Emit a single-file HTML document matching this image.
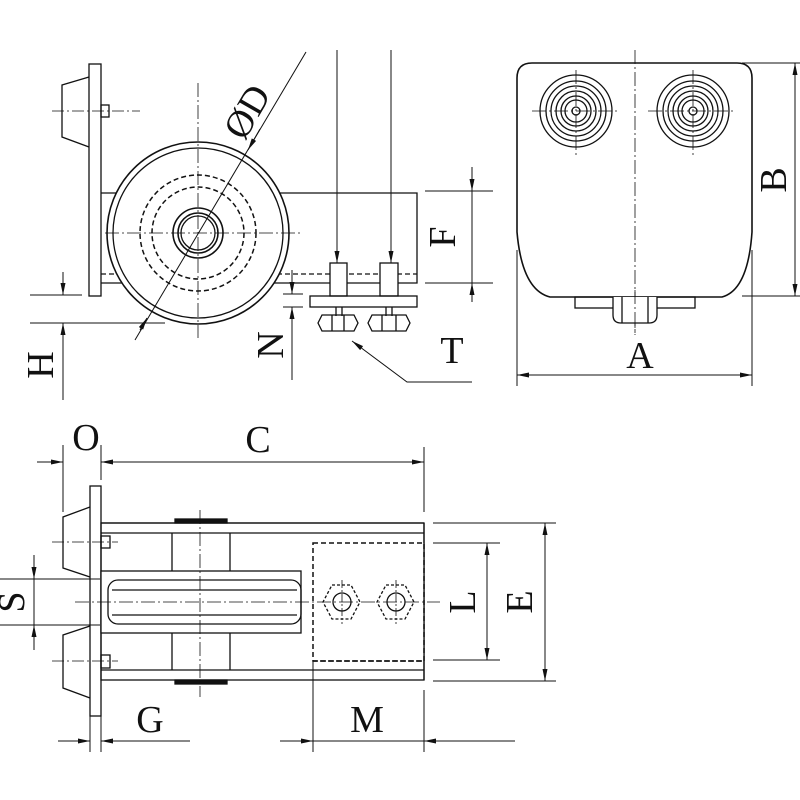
<!DOCTYPE html>
<html><head><meta charset="utf-8"><style>html,body{margin:0;padding:0;background:#fff}svg{display:block}text{font-family:"Liberation Serif",serif;font-size:38px;fill:#111}</style></head>
<body>
<svg width="800" height="800" viewBox="0 0 800 800" xmlns="http://www.w3.org/2000/svg">
<defs>
<marker id="a" viewBox="0 0 12 6" refX="12" refY="3" markerWidth="12" markerHeight="6" orient="auto" markerUnits="userSpaceOnUse"><path d="M0,0.5 L12,3 L0,5.5 Z" fill="#111"/></marker>
</defs>
<g stroke="#111" stroke-width="1.3" fill="none">
<!-- ===== TOP-LEFT VIEW ===== -->
<rect x="89" y="64" width="12" height="232" fill="#fff"/>
<path d="M89,77 L62,85 L62,137 L89,147"/>
<rect x="101" y="105" width="8" height="12"/>
<line x1="52" y1="111" x2="140" y2="111" stroke-dasharray="12,3,2,3" stroke-width="0.8"/>
<path d="M101,193 L417,193 L417,283 L101,283"/>
<line x1="101" y1="274" x2="417" y2="274" stroke-dasharray="5,3"/>
<circle cx="198" cy="233" r="91" stroke-width="1.6" fill="#fff"/>
<circle cx="198" cy="233" r="85"/>
<circle cx="198" cy="233" r="58" stroke-dasharray="5,3" stroke-width="1.5"/>
<circle cx="198" cy="233" r="46" stroke-dasharray="5,3" stroke-width="1.5"/>
<circle cx="198" cy="233" r="25" stroke-width="1.6"/>
<circle cx="198" cy="233" r="20" stroke-width="1.6"/>
<circle cx="198" cy="233" r="17"/>
<line x1="198" y1="83" x2="198" y2="338" stroke-dasharray="14,3,2,3" stroke-width="0.8"/>
<line x1="105" y1="233" x2="303" y2="233" stroke-dasharray="14,3,2,3" stroke-width="0.8"/>
<line x1="306" y1="52" x2="135" y2="340" stroke-width="1"/>
<path d="M247,151 L253,146" stroke="none"/>
<line x1="260" y1="129" x2="248" y2="150" marker-end="url(#a)" stroke-width="1"/>
<line x1="140" y1="330" x2="147" y2="318" marker-end="url(#a)" stroke-width="1"/>
<!-- bolts -->
<rect x="330" y="263" width="17" height="33" fill="#fff"/>
<rect x="380" y="263" width="18" height="33" fill="#fff"/>
<rect x="310" y="296" width="107" height="11"/>
<line x1="336" y1="307" x2="336" y2="316"/><line x1="342" y1="307" x2="342" y2="316"/>
<line x1="386" y1="307" x2="386" y2="316"/><line x1="392" y1="307" x2="392" y2="316"/>
<path d="M322,315 L354,315 L358,323 L354,331 L322,331 L318,323 Z"/>
<line x1="332" y1="315" x2="332" y2="331"/><line x1="344" y1="315" x2="344" y2="331"/>
<path d="M372,315 L406,315 L410,323 L406,331 L372,331 L368,323 Z"/>
<line x1="382" y1="315" x2="382" y2="331"/><line x1="396" y1="315" x2="396" y2="331"/>
<line x1="337" y1="50" x2="337" y2="263" stroke-width="1" marker-end="url(#a)"/>
<line x1="391" y1="50" x2="391" y2="263" stroke-width="1" marker-end="url(#a)"/>
<!-- F -->
<line x1="425" y1="191" x2="493" y2="191" stroke-width="1"/>
<line x1="425" y1="283" x2="493" y2="283" stroke-width="1"/>
<line x1="472" y1="167" x2="472" y2="191" stroke-width="1" marker-end="url(#a)"/>
<line x1="472" y1="302" x2="472" y2="283" stroke-width="1" marker-end="url(#a)"/>
<line x1="472" y1="191" x2="472" y2="283" stroke-width="1"/>
<!-- H -->
<line x1="30" y1="295" x2="82" y2="295" stroke-width="1"/>
<line x1="30" y1="323" x2="165" y2="323" stroke-width="1"/>
<line x1="63" y1="272" x2="63" y2="295" stroke-width="1" marker-end="url(#a)"/>
<line x1="63" y1="400" x2="63" y2="323" stroke-width="1" marker-end="url(#a)"/>
<!-- N -->
<line x1="283" y1="294" x2="303" y2="294" stroke-width="1"/>
<line x1="283" y1="307" x2="303" y2="307" stroke-width="1"/>
<line x1="292" y1="270" x2="292" y2="294" stroke-width="1" marker-end="url(#a)"/>
<line x1="292" y1="380" x2="292" y2="307" stroke-width="1" marker-end="url(#a)"/>
<!-- T leader -->
<polyline points="472,382 407,382 352,341" stroke-width="1" marker-end="url(#a)"/>

<!-- ===== RIGHT VIEW ===== -->
<path d="M532,63 L737,63 Q752,63 752,78 L752,232 Q748,290 722,297 L550,297 Q522,290 517,232 L517,78 Q517,63 532,63 Z" stroke-width="1.6"/>
<line x1="635" y1="50" x2="635" y2="335" stroke-dasharray="14,3,2,3" stroke-width="0.8"/>
<g>
<circle cx="576" cy="111" r="36"/><circle cx="576" cy="111" r="30"/><circle cx="576" cy="111" r="25"/><circle cx="576" cy="111" r="20"/><circle cx="576" cy="111" r="15"/><circle cx="576" cy="111" r="11"/><circle cx="576" cy="111" r="4"/>
<circle cx="693" cy="111" r="36"/><circle cx="693" cy="111" r="30"/><circle cx="693" cy="111" r="25"/><circle cx="693" cy="111" r="20"/><circle cx="693" cy="111" r="15"/><circle cx="693" cy="111" r="11"/><circle cx="693" cy="111" r="4"/>
</g>
<line x1="532" y1="111" x2="618" y2="111" stroke-dasharray="14,3,2,3" stroke-width="0.8"/>
<line x1="648" y1="111" x2="736" y2="111" stroke-dasharray="14,3,2,3" stroke-width="0.8"/>
<line x1="576" y1="70" x2="576" y2="155" stroke-dasharray="14,3,2,3" stroke-width="0.8"/>
<line x1="693" y1="70" x2="693" y2="155" stroke-dasharray="14,3,2,3" stroke-width="0.8"/>
<rect x="575" y="297" width="120" height="11"/>
<path d="M613,297 L613,315 Q613,323 621,323 L649,323 Q657,323 657,315 L657,297" fill="#fff"/>
<line x1="622" y1="297" x2="622" y2="323"/><line x1="648" y1="297" x2="648" y2="323"/>
<line x1="635" y1="290" x2="635" y2="335" stroke-dasharray="14,3,2,3" stroke-width="0.8"/>
<!-- B -->
<line x1="742" y1="63" x2="800" y2="63" stroke-width="1"/>
<line x1="742" y1="296" x2="800" y2="296" stroke-width="1"/>
<line x1="795" y1="180" x2="795" y2="63" stroke-width="1" marker-end="url(#a)"/>
<line x1="795" y1="180" x2="795" y2="296" stroke-width="1" marker-end="url(#a)"/>
<!-- A -->
<line x1="517" y1="250" x2="517" y2="386" stroke-width="1"/>
<line x1="752" y1="250" x2="752" y2="386" stroke-width="1"/>
<line x1="635" y1="375" x2="517" y2="375" stroke-width="1" marker-end="url(#a)"/>
<line x1="635" y1="375" x2="752" y2="375" stroke-width="1" marker-end="url(#a)"/>

<!-- ===== BOTTOM VIEW ===== -->
<rect x="90" y="486" width="11" height="230"/>
<path d="M90,507 L63,517 L63,568 L90,577"/>
<path d="M90,626 L63,635 L63,688 L90,698"/>
<rect x="101" y="536" width="9" height="12"/>
<rect x="101" y="655" width="9" height="13"/>
<line x1="52" y1="542" x2="118" y2="542" stroke-dasharray="12,3,2,3" stroke-width="0.8"/>
<line x1="52" y1="661" x2="118" y2="661" stroke-dasharray="12,3,2,3" stroke-width="0.8"/>
<rect x="101" y="523" width="323" height="157"/>
<line x1="101" y1="533" x2="424" y2="533"/>
<line x1="101" y1="670" x2="424" y2="670"/>
<rect x="175" y="519" width="52" height="4" fill="#111"/>
<rect x="175" y="680" width="52" height="4" fill="#111"/>
<line x1="172" y1="533" x2="172" y2="571"/><line x1="230" y1="533" x2="230" y2="571"/>
<line x1="172" y1="633" x2="172" y2="670"/><line x1="230" y1="633" x2="230" y2="670"/>
<rect x="101" y="571" width="200" height="62" fill="#fff"/>
<rect x="108" y="580" width="193" height="44" rx="10"/>
<line x1="112" y1="590" x2="297" y2="590"/>
<line x1="112" y1="615" x2="297" y2="615"/>
<rect x="313" y="543" width="111" height="118" stroke-dasharray="5,3" stroke-width="1.5" fill="#fff"/>
<line x1="101" y1="523" x2="424" y2="523"/>
<line x1="424" y1="523" x2="424" y2="680"/>
<line x1="313" y1="661" x2="424" y2="661" stroke-dasharray="5,3" stroke-width="1.5"/>
<path d="M332,585 L351,585 L360,602 L351,619 L332,619 L323,602 Z" stroke-dasharray="3,2"/>
<circle cx="342" cy="602" r="9"/>
<path d="M386,585 L405,585 L414,602 L405,619 L386,619 L377,602 Z" stroke-dasharray="3,2"/>
<circle cx="396" cy="602" r="9"/>
<line x1="75" y1="602" x2="440" y2="602" stroke-dasharray="14,3,2,3" stroke-width="0.8"/>
<line x1="200" y1="510" x2="200" y2="697" stroke-dasharray="14,3,2,3" stroke-width="0.8"/>
<line x1="342" y1="580" x2="342" y2="624" stroke-dasharray="8,2,2,2" stroke-width="0.8"/>
<line x1="396" y1="580" x2="396" y2="624" stroke-dasharray="8,2,2,2" stroke-width="0.8"/>
<!-- O/C -->
<line x1="63" y1="445" x2="63" y2="512" stroke-width="1"/>
<line x1="101" y1="445" x2="101" y2="480" stroke-width="1"/>
<line x1="424" y1="447" x2="424" y2="512" stroke-width="1"/>
<line x1="37" y1="462" x2="63" y2="462" stroke-width="1" marker-end="url(#a)"/>
<line x1="260" y1="462" x2="101" y2="462" stroke-width="1" marker-end="url(#a)"/>
<line x1="260" y1="462" x2="424" y2="462" stroke-width="1" marker-end="url(#a)"/>
<!-- L -->
<line x1="433" y1="543" x2="500" y2="543" stroke-width="1"/>
<line x1="433" y1="660" x2="500" y2="660" stroke-width="1"/>
<line x1="487" y1="602" x2="487" y2="543" stroke-width="1" marker-end="url(#a)"/>
<line x1="487" y1="602" x2="487" y2="660" stroke-width="1" marker-end="url(#a)"/>
<!-- E -->
<line x1="433" y1="523" x2="556" y2="523" stroke-width="1"/>
<line x1="433" y1="681" x2="556" y2="681" stroke-width="1"/>
<line x1="545" y1="602" x2="545" y2="523" stroke-width="1" marker-end="url(#a)"/>
<line x1="545" y1="602" x2="545" y2="681" stroke-width="1" marker-end="url(#a)"/>
<!-- S -->
<line x1="0" y1="579" x2="100" y2="579" stroke-width="1"/>
<line x1="0" y1="625" x2="100" y2="625" stroke-width="1"/>
<line x1="34" y1="555" x2="34" y2="579" stroke-width="1" marker-end="url(#a)"/>
<line x1="34" y1="650" x2="34" y2="625" stroke-width="1" marker-end="url(#a)"/>
<line x1="34" y1="579" x2="34" y2="625" stroke-width="1"/>
<!-- G -->
<line x1="90" y1="716" x2="90" y2="752" stroke-width="1"/>
<line x1="101" y1="716" x2="101" y2="752" stroke-width="1"/>
<line x1="58" y1="741" x2="90" y2="741" stroke-width="1" marker-end="url(#a)"/>
<line x1="190" y1="741" x2="101" y2="741" stroke-width="1" marker-end="url(#a)"/>
<!-- M -->
<line x1="313" y1="661" x2="313" y2="752" stroke-width="1"/>
<line x1="424" y1="690" x2="424" y2="752" stroke-width="1"/>
<line x1="280" y1="741" x2="313" y2="741" stroke-width="1" marker-end="url(#a)"/>
<line x1="515" y1="741" x2="424" y2="741" stroke-width="1" marker-end="url(#a)"/>
<line x1="313" y1="741" x2="424" y2="741" stroke-width="1"/>
</g>
<!-- Labels -->
<text x="0" y="0" transform="translate(258,118) rotate(-60)" text-anchor="middle">ØD</text>
<text transform="translate(455,237) rotate(-90)" text-anchor="middle">F</text>
<text transform="translate(53,365) rotate(-90)" text-anchor="middle">H</text>
<text transform="translate(283,345) rotate(-90)" text-anchor="middle">N</text>
<text x="452" y="363" text-anchor="middle">T</text>
<text transform="translate(786,180) rotate(-90)" text-anchor="middle">B</text>
<text x="640" y="368" text-anchor="middle">A</text>
<text x="86" y="450" text-anchor="middle">O</text>
<text x="258" y="452" text-anchor="middle">C</text>
<text transform="translate(475,602) rotate(-90)" text-anchor="middle">L</text>
<text transform="translate(532,602) rotate(-90)" text-anchor="middle">E</text>
<text transform="translate(24,602) rotate(-90)" text-anchor="middle">S</text>
<text x="150" y="732" text-anchor="middle">G</text>
<text x="367" y="732" text-anchor="middle">M</text>
</svg>
</body></html>
